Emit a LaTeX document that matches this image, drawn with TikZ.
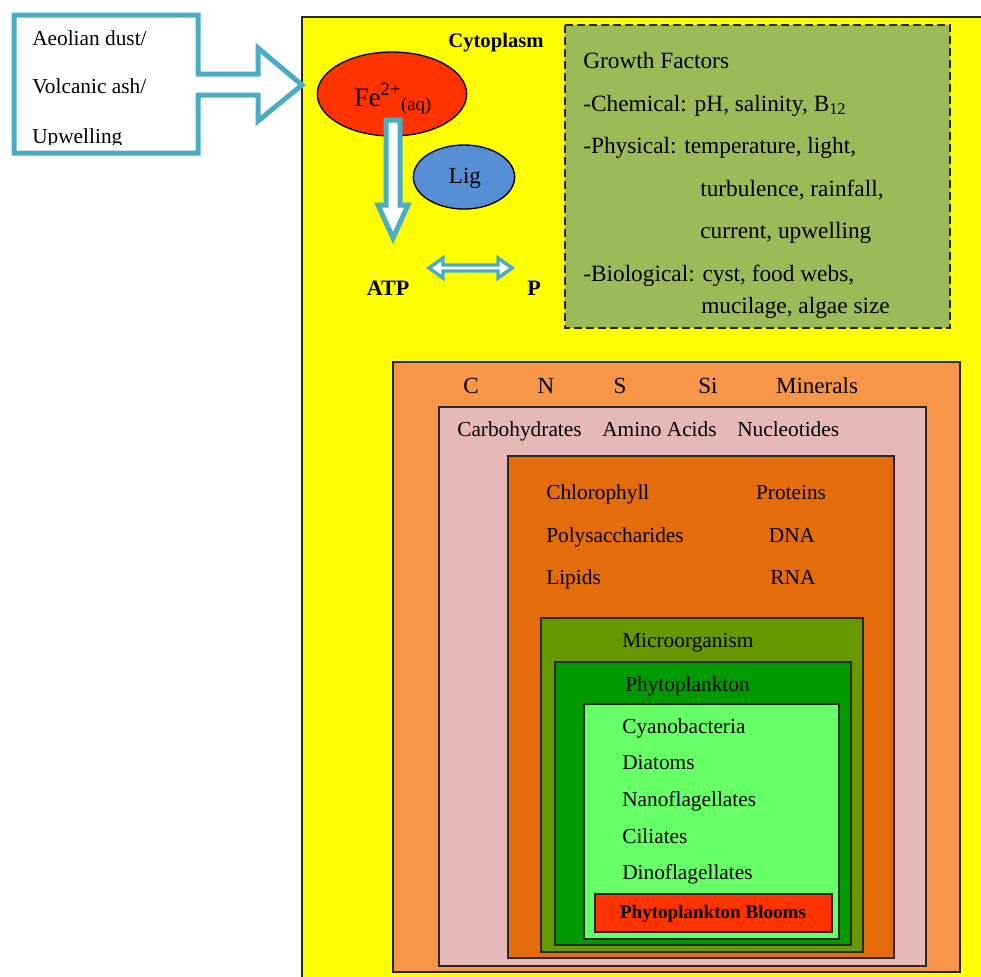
\documentclass[tikz,border=0pt]{standalone}
\usepackage{fontspec}
\setmainfont{Liberation Serif}
\usepackage{xcolor}
\usetikzlibrary{shapes.geometric, arrows.meta}
\definecolor{cellyellow}{RGB}{255,255,0}
\definecolor{flux}{RGB}{75,172,198}
\definecolor{ironred}{RGB}{255,51,0}
\definecolor{ligblue}{RGB}{85,142,213}
\definecolor{factorgreen}{RGB}{155,187,89}
\definecolor{elemorange}{RGB}{247,150,70}
\definecolor{monopink}{RGB}{230,185,184}
\definecolor{polyorange}{RGB}{228,108,10}
\definecolor{microolive}{RGB}{102,153,0}
\definecolor{phytogreen}{RGB}{0,153,0}
\definecolor{speciesgreen}{RGB}{102,255,102}
\definecolor{edge}{RGB}{40,40,40}
\tikzset{
    nest/.style={draw=edge, line width=1.5pt},
    txt/.style={inner sep=0pt, anchor=base west, font=\fontsize{16}{19}\selectfont},
    ctxt/.style={inner sep=0pt, anchor=base, font=\fontsize{16}{19}\selectfont},
    factor/.style={inner sep=0pt, anchor=base west, font=\fontsize{17.5}{21}\selectfont},
    elem/.style={inner sep=0pt, anchor=base, font=\fontsize{17.3}{21}\selectfont},
    boldtxt/.style={inner sep=0pt, anchor=base, font=\fontsize{16.5}{20}\selectfont\bfseries},
    blob/.style={ellipse, draw=black, line width=1pt, inner sep=0pt},
    hollow/.style={draw=flux, fill=white, line join=miter}
}
\begin{document}
\begin{tikzpicture}[x=0.75pt, y=-0.75pt]
    \useasboundingbox (0,0) rectangle (981,976);
    \clip (0,0) rectangle (981,976);

    % Cytoplasm
    \draw[nest, fill=cellyellow] (302,17) rectangle (995,995);
    \node[boldtxt, font=\fontsize{15.5}{19}\selectfont\bfseries] (cyto) at (496,47) {Cytoplasm};

    % Source of iron
    \draw[hollow, line width=3.75pt] (14,15) -- (198,15) -- (198,74) -- (258,74) -- (258,48)
        -- (302,85) -- (258,121) -- (258,95) -- (198,95) -- (198,153) -- (14,153) -- cycle;
    \begin{scope}
        \clip (16,17) rectangle (196,144);
        \node[txt] (dust) at (32,45) {Aeolian dust/};
        \node[txt] (ash) at (32,93) {Volcanic ash/};
        \node[txt] (upw) at (32,143) {Upwelling};
    \end{scope}

    % Iron uptake
    \node[blob, fill=ironred, minimum width=112pt, minimum height=63pt] (fe) at (392,94) {};
    \node[inner sep=0pt, anchor=base, font=\fontsize{20}{24}\selectfont] (felabel) at (393,106)
        {Fe\textsuperscript{2+}\textsubscript{(aq)}};
    \node[blob, fill=ligblue, minimum width=76pt, minimum height=48pt] (lig) at (464,177) {};
    \node[inner sep=0pt, anchor=base, font=\fontsize{17.3}{21}\selectfont] (liglabel) at (465,183) {Lig};
    \draw[hollow, line width=3.75pt] (386,120) -- (400,120) -- (400,205) -- (408,205)
        -- (393,238) -- (378,205) -- (386,205) -- cycle;
    \node[boldtxt] (atp) at (388,295) {ATP};
    \node[boldtxt] (p) at (534,295) {P};
    \draw[hollow, line width=2.6pt] (429,268) -- (443,258) -- (443,265) -- (498,265) -- (498,258)
        -- (512,268) -- (498,278) -- (498,271) -- (443,271) -- (443,278) -- cycle;

    % Growth Factors
    \draw[draw=edge, line width=1.4pt, dash pattern=on 6pt off 3pt, fill=factorgreen] (565,25) rectangle (950,328);
    \node[factor] (gf) at (583,68) {Growth Factors};
    \node[factor] (chem) at (583,111) {-Chemical: pH, salinity, B\textsubscript{12}};
    \node[factor] (phys) at (583,153) {-Physical: temperature, light,};
    \node[factor] (phys2) at (700,196) {turbulence, rainfall,};
    \node[factor] (phys3) at (700,238) {current, upwelling};
    \node[factor] (bio) at (583,281) {-Biological: cyst, food webs,};
    \node[factor] (bio2) at (701,313) {mucilage, algae size};

    % Elements
    \draw[nest, fill=elemorange] (393,362) rectangle (960,972);
    \node[elem] (c) at (471,393) {C};
    \node[elem] (n) at (546,393) {N};
    \node[elem] (s) at (620,393) {S};
    \node[elem] (si) at (708,393) {Si};
    \node[elem] (min) at (817,393) {Minerals};

    % Monomers
    \draw[nest, fill=monopink] (439,407) rectangle (926,966);
    \node[txt] (carb) at (457,436) {Carbohydrates};
    \node[txt] (amino) at (602,436) {Amino Acids};
    \node[txt] (nucl) at (737,436) {Nucleotides};

    % Macromolecules
    \draw[nest, fill=polyorange] (508,456) rectangle (894,958);
    \node[txt] (chl) at (546,499) {Chlorophyll};
    \node[txt] (poly) at (546,542) {Polysaccharides};
    \node[txt] (lipid) at (546,584) {Lipids};
    \node[ctxt] (prot) at (791,499) {Proteins};
    \node[ctxt] (dna) at (792,542) {DNA};
    \node[ctxt] (rna) at (793,584) {RNA};

    % Organisms
    \draw[nest, fill=microolive] (541,618) rectangle (863,952);
    \node[txt] (micro) at (622,647) {Microorganism};
    \draw[nest, fill=phytogreen] (555,662) rectangle (851,945);
    \node[txt] (phyto) at (625,691) {Phytoplankton};
    \draw[nest, fill=speciesgreen] (584,704) rectangle (839,939);
    \node[txt] (cyano) at (622,733) {Cyanobacteria};
    \node[txt] (diat) at (622,769) {Diatoms};
    \node[txt] (nano) at (622,806) {Nanoflagellates};
    \node[txt] (cili) at (622,843) {Ciliates};
    \node[txt] (dino) at (622,879) {Dinoflagellates};
    \draw[nest, fill=ironred] (595,894) rectangle (832,932);
    \node[boldtxt, font=\fontsize{14.3}{17}\selectfont\bfseries] (bloom) at (713,918) {Phytoplankton Blooms};
\end{tikzpicture}
\end{document}
